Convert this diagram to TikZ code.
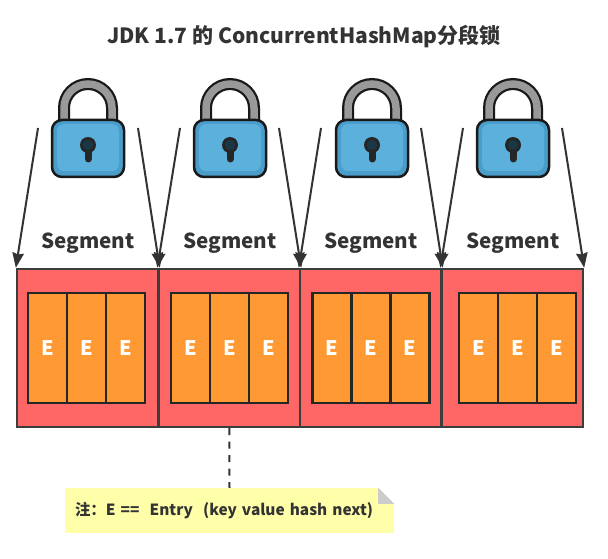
\documentclass[tikz,border=0pt]{standalone}
\usepackage{fontspec}
\setmainfont{Noto Sans CJK SC}
\usepackage{tikz}
\usetikzlibrary{calc,arrows.meta}

\definecolor{segred}{HTML}{FF6666}
\definecolor{entryorange}{HTML}{FF9933}
\definecolor{notebg}{HTML}{FFFFAA}
\definecolor{inkgray}{HTML}{333333}
\definecolor{lockblue}{HTML}{5BB0DC}
\definecolor{lockedge}{HTML}{4A9CC9}

\tikzset{
    segbox/.style={draw=inkgray!95, line width=2.4pt, fill=segred, minimum width=141.5pt, minimum height=158pt, inner sep=0pt},
    entrybox/.style={draw=black!85, line width=2.4pt, fill=entryorange, minimum width=39pt, minimum height=110pt, inner sep=0pt,
        text=white, font=\fontsize{20}{22}\selectfont\bfseries},
    seglabel/.style={text=inkgray, inner sep=0pt, font=\fontsize{20.6}{24}\selectfont\bfseries},
    pointer/.style={draw=inkgray, line width=2pt, -{Stealth[length=15pt,width=11.5pt,inset=1.5pt]}},
    notebox/.style={fill=notebg, text=inkgray, text width=309pt, inner xsep=10pt, inner ysep=0pt, minimum height=45pt,
        align=left, font=\fontsize{15.4}{18}\selectfont\bfseries},
    padlock/.pic={
        \draw[line width=12pt, black!90] (-24,36) -- (-24,50) arc (180:0:24pt) -- (24,36);
        \draw[line width=7.5pt, gray!80] (-24,36) -- (-24,50) arc (180:0:24pt) -- (24,36);
        \draw[line width=2.5pt, black!90, fill=lockedge, rounded corners=10pt] (-36,-19) rectangle (36,38);
        \fill[lockblue, rounded corners=7pt] (-31,-13) rectangle (31,34);
        \fill[black!85] (0,13) circle (8pt);
        \draw[line width=7pt, black!85, line cap=round] (0,10) -- (0,-1);
        \fill[black!65!lockedge] (0,13) circle (5pt);
    }
}

\begin{document}
\begin{tikzpicture}[x=1pt, y=1pt]
    \useasboundingbox (0,0) rectangle (608,558);
    \node[inkgray, inner sep=0pt, font=\fontsize{21}{25}\selectfont\bfseries] (title) at (304,521) {JDK 1.7 的 ConcurrentHashMap分段锁};

    \pic (lock1) at (88,400) {padlock};
    \pic (lock2) at (230,400) {padlock};
    \pic (lock3) at (372,400) {padlock};
    \pic (lock4) at (513,400) {padlock};

    \node[seglabel] (label1) at (88,315) {Segment};
    \node[seglabel] (label2) at (230,315) {Segment};
    \node[seglabel] (label3) at (371,315) {Segment};
    \node[seglabel] (label4) at (513,315) {Segment};

    \node[segbox] (seg1) at (87.75,210) {};
    \node[segbox] (seg2) at (229.25,210) {};
    \node[segbox] (seg3) at (370.75,210) {};
    \node[segbox] (seg4) at (512.25,210) {};

    \node[entrybox] (e11) at (47.5,210) {E};
    \node[entrybox] (e12) at (86.5,210) {E};
    \node[entrybox] (e13) at (125.5,210) {E};
    \node[entrybox] (e21) at (190.5,210) {E};
    \node[entrybox] (e22) at (229.5,210) {E};
    \node[entrybox] (e23) at (268.5,210) {E};
    \node[entrybox] (e31) at (332,210) {E};
    \node[entrybox] (e32) at (371,210) {E};
    \node[entrybox] (e33) at (410,210) {E};
    \node[entrybox] (e41) at (478.5,210) {E};
    \node[entrybox] (e42) at (517.5,210) {E};
    \node[entrybox] (e43) at (556.5,210) {E};

    \coordinate (p1l) at (38,430);
    \coordinate (p1r) at (138,430);
    \coordinate (p2l) at (180,430);
    \coordinate (p2r) at (279,430);
    \coordinate (p3l) at (321,430);
    \coordinate (p3r) at (421,430);
    \coordinate (p4l) at (463,430);
    \coordinate (p4r) at (562,430);
    \draw[pointer] (p1l) -- (seg1.north west);
    \draw[pointer] (p1r) -- (seg1.north east);
    \draw[pointer] (p2l) -- (seg2.north west);
    \draw[pointer] (p2r) -- (seg2.north east);
    \draw[pointer] (p3l) -- (seg3.north west);
    \draw[pointer] (p3r) -- (seg3.north east);
    \draw[pointer] (p4l) -- (seg4.north west);
    \draw[pointer] (p4r) -- (seg4.north east);

    \node[notebox] (note) at (229.5,47.5) {\raisebox{-1.5pt}{注：E\ ==\ \ Entry\ \ (key value hash next)}};
    \draw[inkgray, line width=2pt, dash pattern=on 7pt off 6.5pt] (seg2.south) -- (note.north);
    \fill[white] (note.north east) -- ++(-16,0) -- ++(16,-16) -- cycle;
    \fill[black!20] ($(note.north east)+(-16,0)$) -- ++(16,-16) -- ++(-16,0) -- cycle;
\end{tikzpicture}
\end{document}
